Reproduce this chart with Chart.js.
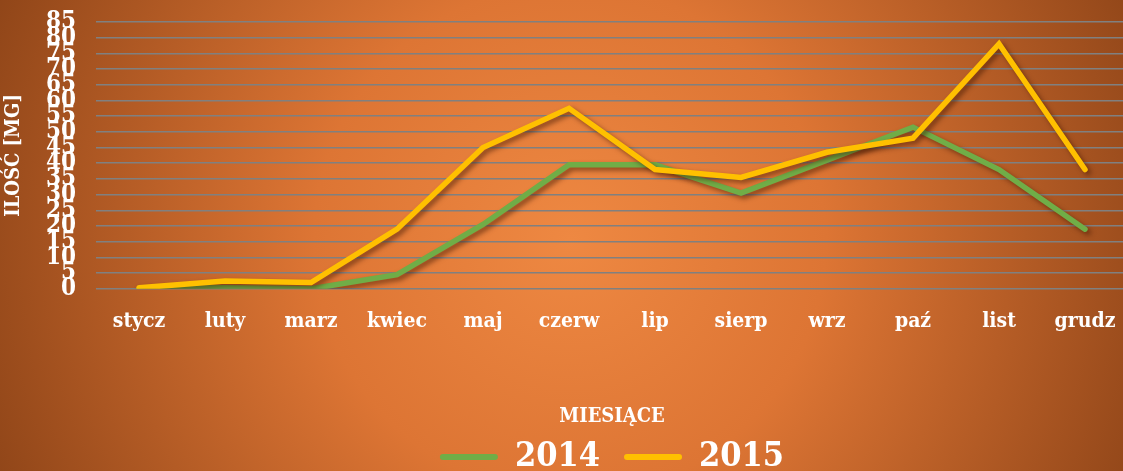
<!DOCTYPE html>
<html>
<head>
<meta charset="utf-8">
<script src="https://cdn.jsdelivr.net/npm/chart.js@4"></script>
<style>
  html, body { margin: 0; padding: 0; overflow: hidden; background: #8f4a1c; }
  #wrap { width: 1128px; height: 471px; }
</style>
</head>
<body>
<div id="wrap"><canvas id="chart"></canvas></div>
<script>
const months = ['stycz', 'luty', 'marz', 'kwiec', 'maj', 'czerw', 'lip', 'sierp', 'wrz', 'paź', 'list', 'grudz'];
const values2014 = [0, 0.3, 0, 4.5, 20.5, 39.5, 39.5, 30.5, 41, 51.5, 38, 19];
const values2015 = [0.3, 2.5, 2, 19, 45, 57.5, 38, 35.5, 43.5, 48, 78, 38];

const serif = '"DejaVu Serif Condensed", "DejaVu Serif", serif';

// warm radial background + soft shadow under the lines
const decor = {
  id: 'decor',
  beforeDraw(chart) {
    const { ctx, width, height } = chart;
    const g = ctx.createRadialGradient(570, 240, 0, 570, 240, 640);
    g.addColorStop(0, '#ee8842');
    g.addColorStop(0.4, '#dd7534');
    g.addColorStop(1, '#8c4317');
    ctx.save();
    ctx.fillStyle = g;
    ctx.fillRect(0, 0, width, height);
    ctx.restore();
  },
  beforeDatasetsDraw(chart) {
    const ctx = chart.ctx;
    ctx.save();
    ctx.shadowColor = 'rgba(60,20,0,0.55)';
    ctx.shadowBlur = 5;
    ctx.shadowOffsetX = 3;
    ctx.shadowOffsetY = 3;
  },
  afterDatasetsDraw(chart) {
    chart.ctx.restore();
  }
};

new Chart(document.getElementById('chart'), {
  type: 'line',
  data: {
    labels: months,
    datasets: [
      {
        label: '2014',
        data: values2014,
        borderColor: '#70ad47',
        backgroundColor: '#70ad47',
        borderWidth: 5.5,
        borderCapStyle: 'round',
        pointRadius: 0,
        order: 1
      },
      {
        label: '2015',
        data: values2015,
        borderColor: '#ffc000',
        backgroundColor: '#ffc000',
        borderWidth: 5.5,
        borderCapStyle: 'round',
        pointRadius: 0,
        order: 0
      }
    ]
  },
  options: {
    responsive: true,
    maintainAspectRatio: false,
    animation: false,
    layout: { padding: { top: 0, left: 2, right: 0, bottom: -13 } },
    plugins: {
      tooltip: { enabled: false },
      legend: {
        position: 'bottom',
        fullSize: false,
        labels: {
          color: '#ffffff',
          font: { family: serif, size: 34, weight: 'bold' },
          boxWidth: 58,
          boxHeight: 6,
          useBorderRadius: true,
          borderRadius: 3,
          padding: 24,
          sort: (a, b) => a.datasetIndex - b.datasetIndex,
          generateLabels(chart) {
            return Chart.defaults.plugins.legend.labels.generateLabels(chart)
              .map(item => ({ ...item, lineWidth: 0 }));
          }
        }
      }
    },
    scales: {
      x: {
        offset: true,
        grid: { display: false },
        border: { display: false },
        ticks: {
          color: '#ffffff',
          font: { family: serif, size: 21, weight: 'bold' },
          padding: 12,
          maxRotation: 0
        },
        title: {
          display: true,
          text: 'MIESIĄCE',
          color: '#ffffff',
          font: { family: serif, size: 20, weight: 'bold' },
          padding: { top: 59, bottom: -13 }
        }
      },
      y: {
        min: 0,
        max: 85,
        afterFit(scale) { scale.paddingTop = 22; },
        grid: { color: '#808080', lineWidth: 1.6, drawTicks: false },
        border: { display: false },
        ticks: {
          stepSize: 5,
          autoSkip: false,
          color: '#ffffff',
          font: { family: serif, size: 24, weight: 'bold' },
          padding: 20
        },
        title: {
          display: true,
          text: 'ILOŚĆ [MG]',
          color: '#ffffff',
          font: { family: serif, size: 20, weight: 'bold' },
          padding: { top: 0, bottom: 0 }
        }
      }
    }
  },
  plugins: [decor]
});
</script>
</body>
</html>
